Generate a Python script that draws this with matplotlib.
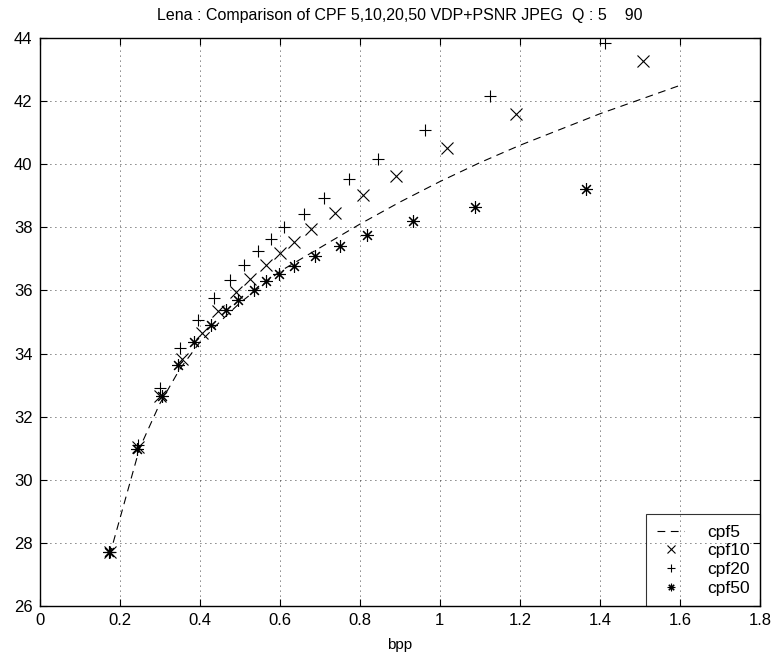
import matplotlib
matplotlib.use("Agg")
import matplotlib.pyplot as plt

plt.rcParams['font.family'] = ['Liberation Sans', 'DejaVu Sans']
plt.rcParams['font.size'] = 10

# cpf5: dashed curve only
cpf5_bpp = [0.175, 0.25, 0.30, 0.35, 0.40, 0.45, 0.50, 0.55, 0.60, 0.70, 0.80,
            0.90, 1.00, 1.10, 1.20, 1.40, 1.60]
cpf5_psnr = [27.6, 31.0, 32.4, 33.5, 34.35, 35.0, 35.6, 36.1, 36.6, 37.35, 38.1,
             38.8, 39.45, 40.05, 40.6, 41.6, 42.5]

cpf10_bpp = [0.175, 0.245, 0.301, 0.355, 0.405, 0.447, 0.491, 0.525, 0.566, 0.60,
             0.635, 0.679, 0.737, 0.808, 0.89, 1.018, 1.19, 1.508]
cpf10_psnr = [27.7, 31.05, 32.65, 33.83, 34.66, 35.36, 35.94, 36.36, 36.82, 37.19,
              37.52, 37.95, 38.45, 39.01, 39.64, 40.52, 41.59, 43.28]

cpf20_bpp = [0.175, 0.245, 0.301, 0.351, 0.395, 0.435, 0.476, 0.51, 0.547, 0.579,
             0.611, 0.66, 0.71, 0.772, 0.846, 0.964, 1.125, 1.412]
cpf20_psnr = [27.7, 31.1, 32.91, 34.18, 35.05, 35.75, 36.34, 36.82, 37.24, 37.63,
              38.01, 38.43, 38.93, 39.53, 40.18, 41.07, 42.17, 43.85]

cpf50_bpp = [0.174, 0.243, 0.305, 0.345, 0.387, 0.428, 0.466, 0.497, 0.536, 0.565,
             0.597, 0.636, 0.689, 0.75, 0.819, 0.933, 1.087, 1.366]
cpf50_psnr = [27.71, 30.96, 32.65, 33.64, 34.36, 34.92, 35.39, 35.71, 36.03, 36.29,
              36.52, 36.78, 37.08, 37.4, 37.76, 38.2, 38.65, 39.21]

x_ticks = [0, 0.2, 0.4, 0.6, 0.8, 1, 1.2, 1.4, 1.6, 1.8]
x_labels = ['0', '0.2', '0.4', '0.6', '0.8', '1', '1.2', '1.4', '1.6', '1.8']
y_ticks = [26, 28, 30, 32, 34, 36, 38, 40, 42, 44]

fig = plt.figure(figsize=(7.78, 6.6), dpi=100)
ax = fig.add_axes([0.0508, 0.0818, 0.9262, 0.8606])

ax.plot(cpf5_bpp, cpf5_psnr, linestyle=(0, (7, 5)), color='black', linewidth=0.8,
        label='cpf5')
ax.plot(cpf10_bpp, cpf10_psnr, linestyle='none', marker='x', markersize=9,
        markeredgewidth=0.8, color='black', label='cpf10')
ax.plot(cpf20_bpp, cpf20_psnr, linestyle='none', marker='+', markersize=9,
        markeredgewidth=0.8, color='black', label='cpf20')
ax.plot(cpf50_bpp, cpf50_psnr, linestyle='none', marker=(8, 2, 0), markersize=9,
        markeredgewidth=0.8, color='black', label='cpf50')

ax.set_xlim(0, 1.8)
ax.set_ylim(26, 44)
ax.set_xticks(x_ticks)
ax.set_xticklabels(x_labels)
ax.set_yticks(y_ticks)
ax.tick_params(direction='in', top=True, right=True, length=5, width=0.8,
               labelsize=12, pad=5)
ax.grid(True, linestyle=(0, (1, 5)), color='black', linewidth=0.6)
for s in ax.spines.values():
    s.set_linewidth(1.0)

ax.set_xlabel('bpp', fontsize=11, labelpad=7)
ax.set_title('Lena : Comparison of CPF 5,10,20,50 VDP+PSNR JPEG  Q : 5    90',
             fontsize=11.5, pad=13)

leg = ax.legend(loc='lower right', bbox_to_anchor=(1.0, 0.0), borderaxespad=0,
                fontsize=12.5, handlelength=1.6, handletextpad=1.3,
                labelspacing=0.2, fancybox=False, markerscale=0.6,
                edgecolor='black', borderpad=0.6)
leg.get_frame().set_facecolor('none')
leg.get_frame().set_linewidth(0.8)

fig.savefig('out.png', dpi=100)
